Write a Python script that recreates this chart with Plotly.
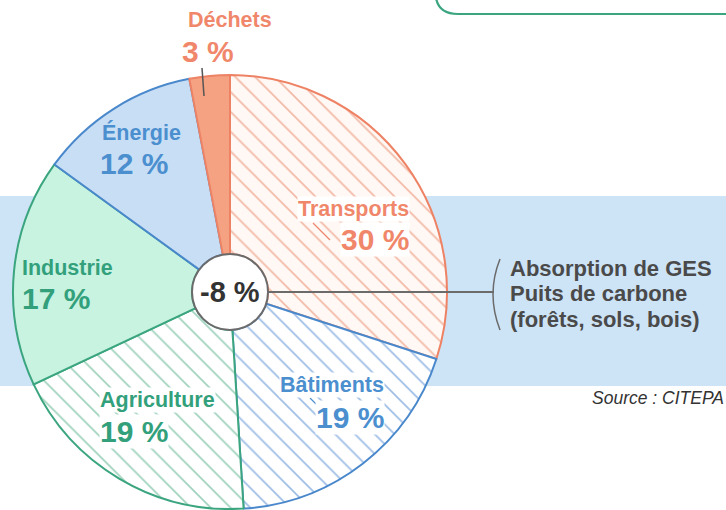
import plotly.graph_objects as go

W, H = 726, 510

# Data
categories = ["Transports", "Bâtiments", "Agriculture", "Industrie", "Énergie", "Déchets"]
values = [30, 19, 19, 17, 12, 3]
value_labels = ["30 %", "19 %", "19 %", "17 %", "12 %", "3 %"]
absorption_value = "-8 %"
absorption_lines = ["Absorption de GES", "Puits de carbone", "(forêts, sols, bois)"]
source_text = "Source : CITEPA"

# Styles
ORANGE = "#f0876b"
BLUE = "#4b8fcf"
GREEN = "#33a07c"
fill_colors = ["#fff8f4", "#ffffff", "#ffffff", "#c8f3e1", "#c8def5", "#f5a283"]
line_colors = ["#ee8264", "#4a88cc", "#3aa57f", "#3aa57f", "#4a88cc", "#ee8264"]
pattern_shapes = ["\\", "\\", "\\", "", "", ""]
pattern_fg = ["#f3b9a6", "#9dbde6", "#9fd2bd", "#3aa57f", "#4a88cc", "#ee8264"]
text_colors = [ORANGE, BLUE, GREEN, GREEN, BLUE, ORANGE]

FONT = "Liberation Sans"


def px(x):
    return x / W


def py(y):
    return 1 - y / H


CX, CY, R = 230, 292, 217
RH = 38

fig = go.Figure()
fig.add_trace(go.Pie(
    labels=categories,
    values=values,
    sort=False,
    direction="clockwise",
    rotation=0,
    hole=RH / R,
    textinfo="none",
    hoverinfo="label+percent",
    showlegend=False,
    domain=dict(x=[px(CX - R), px(CX + R)], y=[py(CY + R), py(CY - R)]),
    marker=dict(
        colors=fill_colors,
        line=dict(color=line_colors, width=2),
        pattern=dict(shape=pattern_shapes, fgcolor=pattern_fg, bgcolor=fill_colors,
                     size=14, solidity=0.12, fillmode="replace"),
    ),
))

shapes = []
# light blue band behind
shapes.append(dict(type="rect", xref="paper", yref="paper", layer="below",
                   x0=0, x1=1, y0=py(386), y1=py(196),
                   fillcolor="#cde3f6", line=dict(width=0)))
# top-right rounded box edge
shapes.append(dict(type="path", xref="paper", yref="paper", layer="above",
                   path=f"M {px(436)},{py(-2)} Q {px(439)},{py(14)} {px(458)},{py(14)} L {px(730)},{py(14)}",
                   line=dict(color="#3aa57f", width=2.2)))
# connector line from center circle to bracket
shapes.append(dict(type="line", xref="paper", yref="paper", layer="above",
                   x0=px(CX + RH), x1=px(494), y0=py(CY), y1=py(CY),
                   line=dict(color="#6b6b6b", width=2)))
# bracket
shapes.append(dict(type="path", xref="paper", yref="paper", layer="above",
                   path=f"M {px(500)},{py(259)} Q {px(486)},{py(294)} {px(500)},{py(330)}",
                   line=dict(color="#6b6b6b", width=1.5)))
# center circle
shapes.append(dict(type="circle", xref="paper", yref="paper", layer="above",
                   x0=px(CX - RH), x1=px(CX + RH), y0=py(CY + RH), y1=py(CY - RH),
                   fillcolor="#ffffff", line=dict(color="#6b6b6b", width=2)))
# leader ticks
shapes.append(dict(type="line", xref="paper", yref="paper", layer="above",
                   x0=px(202), x1=px(204), y0=py(68), y1=py(96),
                   line=dict(color="#555555", width=1.5)))
shapes.append(dict(type="line", xref="paper", yref="paper", layer="above",
                   x0=px(313), x1=px(330), y0=py(223), y1=py(240),
                   line=dict(color=ORANGE, width=1.2)))
shapes.append(dict(type="line", xref="paper", yref="paper", layer="above",
                   x0=px(310), x1=px(317), y0=py(398), y1=py(405),
                   line=dict(color=BLUE, width=1.2)))

annotations = []


def ann(text, x, y, size, color, xanchor="center", weight=700, bg=None, italic=False):
    d = dict(text=text, x=px(x), y=py(y), xref="paper", yref="paper",
             xanchor=xanchor, yanchor="middle", showarrow=False,
             font=dict(family=FONT, size=size, color=color, weight=weight,
                       style="italic" if italic else "normal"),
             borderpad=0)
    if bg:
        d["bgcolor"] = bg
    annotations.append(d)


NAME_SIZE = 21.5
VALUE_SIZE = 30
# label positions (name pos, value pos, anchor, background)
label_layout = {
    "Transports": ((410, 209), (410, 239), "right", "white"),
    "Bâtiments": ((385, 385), (385, 417), "right", "white"),
    "Agriculture": ((99, 400), (99, 431), "left", "white"),
    "Industrie": ((21, 268), (21, 298), "left", None),
    "Énergie": ((101, 133), (99, 163), "left", None),
    "Déchets": ((230, 20), (208, 52), "center", None),
}

for cat, vl, col in zip(categories, value_labels, text_colors):
    (nx, ny), (vx, vy), anc, bg = label_layout[cat]
    ann(cat, nx, ny, NAME_SIZE, col, xanchor=anc, bg=bg)
    ann(vl, vx, vy, VALUE_SIZE, col, xanchor=anc, bg=bg)

ann(absorption_value, CX, CY, 29, "#333333")
for i, line in enumerate(absorption_lines):
    ann(line, 509, 268 + 25.5 * i, 22, "#4a4a4a", xanchor="left", weight=700)
ann(source_text, 725, 398, 17.5, "#333333", xanchor="right", weight=400, italic=True)

fig.update_layout(
    width=W, height=H,
    margin=dict(l=0, r=0, t=0, b=0),
    paper_bgcolor="white", plot_bgcolor="white",
    shapes=shapes, annotations=annotations,
)

fig.write_html("out.html", config={"displayModeBar": False},
               post_script="document.body.style.margin='0';document.body.style.overflow='hidden';")
